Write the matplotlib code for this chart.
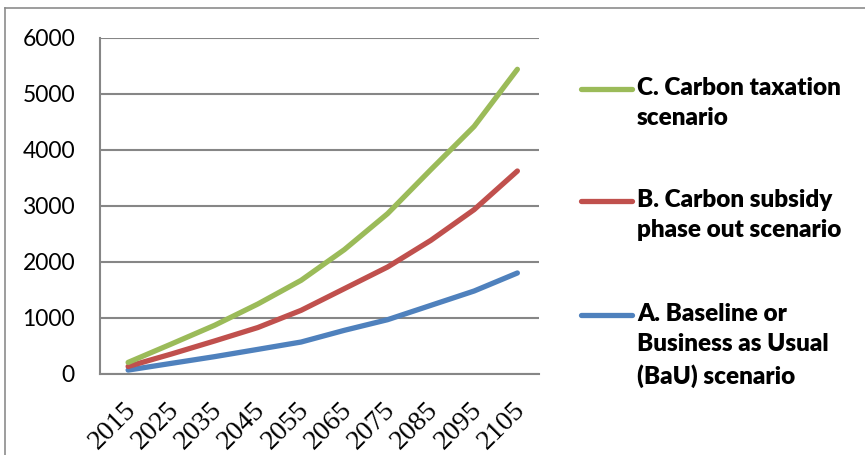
import matplotlib
matplotlib.use("Agg")
import matplotlib.pyplot as plt
import matplotlib.transforms as mtransforms
from matplotlib.lines import Line2D

# scenario data, 2015-2105
years = ["2015", "2025", "2035", "2045", "2055", "2065", "2075", "2085", "2095", "2105"]
baseline = [70, 190, 310, 440, 571, 780, 970, 1226, 1482, 1804]
subsidy = [135, 357, 590, 830, 1137, 1524, 1911, 2387, 2935, 3625]
taxation = [207, 536, 870, 1250, 1673, 2221, 2864, 3650, 4421, 5441]

names = ["C. Carbon taxation\nscenario",
         "B. Carbon subsidy\nphase out scenario",
         "A. Baseline or\nBusiness as Usual\n(BaU) scenario"]
colors = ["#9BBB59", "#C0504D", "#4F81BD"]

W, H = 865, 455
fig = plt.figure(figsize=(W / 100, H / 100), dpi=100)
ax = fig.add_axes([100 / W, 1 - 374 / H, 439 / W, 336 / H])

x = list(range(len(years)))
ax.plot(x, baseline, color=colors[2], lw=3.8, solid_capstyle="round")
ax.plot(x, subsidy, color=colors[1], lw=3.8, solid_capstyle="round")
ax.plot(x, taxation, color=colors[0], lw=3.8, solid_capstyle="round")

ax.set_xlim(-0.65, 9.5)
ax.set_ylim(0, 6000)
ax.set_yticks(range(0, 6001, 1000))
ax.yaxis.grid(True, color="#868686", lw=1.5)
ax.set_axisbelow(True)
for s in ["top", "right"]:
    ax.spines[s].set_visible(False)
for s in ["left", "bottom"]:
    ax.spines[s].set_color("#868686")
    ax.spines[s].set_linewidth(1.5)
ax.tick_params(length=0)
ax.tick_params(axis="y", pad=18)
for lab in ax.get_yticklabels():
    lab.set_fontfamily("Lato")
    lab.set_fontsize(16.5)

ax.set_xticks(x)
ax.set_xticklabels(years, rotation=45, ha="right", rotation_mode="anchor",
                   family="Liberation Serif", fontsize=20)
ax.tick_params(axis="x", pad=17)
# nudge the slanted year labels a little to the left
shift = mtransforms.ScaledTranslation(-5 / 100, 0, fig.dpi_scale_trans)
for lab in ax.get_xticklabels():
    lab.set_transform(lab.get_transform() + shift)

# legend drawn by hand, handle beside the first text line
legend_y = [89, 201, 315]
for name, c, yy in zip(names, colors, legend_y):
    fy = 1 - yy / H
    fig.add_artist(Line2D([581 / W, 632 / W], [fy, fy], color=c, lw=3.8,
                          solid_capstyle="round"))
    fig.text(637 / W, 1 - (yy - 12) / H, name, fontsize=17.5, fontweight="heavy",
             family="Lato", va="top", ha="left", linespacing=1.45)

# outer frame
fig.add_artist(Line2D([5 / W, 1], [1 - 8 / H, 1 - 8 / H], color="#8c8c8c", lw=1.2))
fig.add_artist(Line2D([5 / W, 5 / W], [0, 1 - 8 / H], color="#8c8c8c", lw=1.2))

fig.savefig("out.png", dpi=100)
